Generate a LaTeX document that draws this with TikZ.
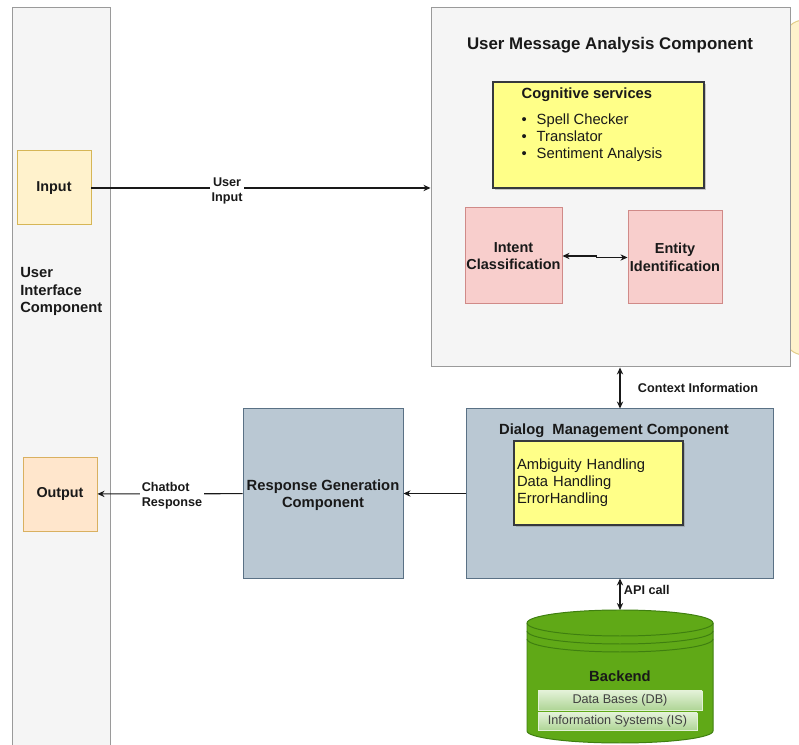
\documentclass[tikz,border=0pt]{standalone}
\usepackage{fontspec}
\setmainfont{Liberation Sans}
\usetikzlibrary{positioning,shadows,arrows.meta}

\definecolor{panelfill}{HTML}{F5F5F5}
\definecolor{panelline}{HTML}{9A9A9A}
\definecolor{infill}{HTML}{FFF2CC}
\definecolor{inline}{HTML}{D6B656}
\definecolor{outfill}{HTML}{FFE6CC}
\definecolor{outline}{HTML}{D9B060}
\definecolor{notefill}{HTML}{FFFF88}
\definecolor{noteline}{HTML}{36393D}
\definecolor{nlpfill}{HTML}{F8CECC}
\definecolor{nlpline}{HTML}{D08A88}
\definecolor{compfill}{HTML}{BAC8D3}
\definecolor{compline}{HTML}{5A7185}
\definecolor{dbfill}{HTML}{60A917}
\definecolor{dbline}{HTML}{3F7F10}
\definecolor{bartop}{HTML}{E2F1D6}
\definecolor{barbot}{HTML}{AFD596}

\begin{document}
\begin{tikzpicture}[>={Stealth[length=5pt, width=4.5pt]},
	every node/.style={inner sep=0pt, text=black!90},
	panel/.style={draw=panelline, fill=panelfill, line width=0.7pt},
	iobox/.style={draw, line width=0.7pt, minimum width=1.85cm, minimum height=1.85cm, font=\fontsize{10.2}{12}\selectfont\bfseries},
	nlpbox/.style={draw=nlpline, fill=nlpfill, line width=0.7pt, align=center, font=\fontsize{10.3}{12.4}\selectfont\bfseries},
	compbox/.style={draw=compline, fill=compfill, line width=0.7pt, minimum height=4.225cm, align=center, font=\fontsize{10.5}{12.4}\selectfont\bfseries},
	notebox/.style={draw=noteline, fill=notefill, line width=0.8pt, drop shadow={shadow xshift=1.2pt, shadow yshift=-1.2pt, opacity=0.4}},
	headtext/.style={font=\fontsize{12}{14}\selectfont\bfseries},
	subhead/.style={font=\fontsize{10.5}{12.4}\selectfont\bfseries},
	bodytext/.style={font=\fontsize{10.5}{12.1}\selectfont, align=left},
	lbl/.style={font=\fontsize{9}{10.8}\selectfont\bfseries, align=left, fill=white, inner sep=1pt},
	bar/.style={draw=bartop, top color=bartop, bottom color=barbot, font=\fontsize{9}{11}\selectfont, text=black!75},
	conn/.style={draw=black!90, line width=0.8pt}]
	\useasboundingbox (0,0) rectangle (19.975,18.625);
	\clip (0,0) rectangle (19.975,18.625);
	
	% shape cut off at the right edge
	\draw[fill=infill, draw=inline!70, line width=0.7pt, rounded corners=0.5cm] (19.6,18.125) rectangle (21,9.75);
	
	% User interface column
	\node[panel, minimum width=2.45cm, minimum height=18.8cm] (ui) at (1.525,9.025) {};
	\node[iobox, fill=infill, draw=inline] (input) at (1.35,13.925) {Input};
	\node[iobox, fill=outfill, draw=outline] (output) at (1.5,6.275) {Output};
	\node[subhead, anchor=west, align=left] (uilabel) at (0.5,11.33) {User\\Interface\\Component};
	
	% User message analysis
	\node[panel, minimum width=8.975cm, minimum height=8.975cm] (uma) at (15.2625,13.9375) {};
	\node[headtext] (umatitle) at (15.25,17.5) {User Message Analysis Component};
	\node[notebox, minimum width=5.275cm, minimum height=2.65cm] (cogsvc) at (14.9625,15.25) {};
	\node[bodytext, below right=0.14cm and 0.725cm of cogsvc.north west] (coglist)
		{\textbf{Cognitive services}\\[7pt]
		\textbullet\hspace{7pt}Spell Checker\\
		\textbullet\hspace{7pt}Translator\\
		\textbullet\hspace{7pt}Sentiment Analysis};
	\node[nlpbox, minimum width=2.425cm, minimum height=2.4cm] (intent) at (12.8375,12.225) {Intent\\Classification};
	\node[nlpbox, minimum width=2.35cm, minimum height=2.325cm] (entity) at (16.875,12.1875) {Entity\\Identification};
	
	% Dialog management and response
	\node[compbox, minimum width=7.675cm] (dlg) at (15.4875,6.2875) {};
	\node[subhead] (dlgtitle) at (15.35,7.86) {Dialog\ \ Management Component};
	\node[notebox, bodytext, minimum width=4.225cm, minimum height=2.1cm, text width=4.075cm, inner sep=0.075cm] (dlgtasks) at (14.9625,6.55)
		{Ambiguity Handling\\Data Handling\\ErrorHandling};
	\node[compbox, minimum width=4cm] (resp) at (8.075,6.2875) {\\[-2pt]Response Generation\\Component};
	
	% Backend data store
	\coordinate (dbtop) at (15.5,3.375);
	\draw[draw=dbline, fill=dbfill, line width=0.7pt] (13.175,3.05) -- (13.175,0.35)
		arc[start angle=180, end angle=360, x radius=2.325, y radius=0.3] -- (17.825,3.05)
		arc[start angle=0, end angle=180, x radius=2.325, y radius=0.325] -- cycle;
	\foreach \dy in {0,0.2,0.4}
		\draw[draw=dbline, line width=0.7pt] (13.175,3.05-\dy) arc[start angle=180, end angle=360, x radius=2.325, y radius=0.325];
	\node[subhead] (backend) at (15.5,1.725) {Backend};
	\node[bar, minimum width=4.1cm, minimum height=0.475cm] (dbbar) at (15.5,1.1125) {Data Bases (DB)};
	\node[bar, minimum width=3.975cm, minimum height=0.425cm] (isbar) at (15.4375,0.5875) {Information Systems (IS)};
	
	% Connectors
	\draw[conn, ->] (input) -- node[lbl, align=center, pos=0.4, yshift=-0.07cm] {User\\Input} (uma.west |- input);
	\draw[conn, <->] (intent.east) -- ++(0.85,0) |- (entity.west);
	\draw[conn, <->] (uma.south -| dbtop) -- node[lbl, anchor=west, xshift=0.4cm, fill=none] {Context Information} (dlg.north -| dbtop);
	\draw[conn, ->] (dlg) -- (resp);
	\draw[conn, ->] (resp) -- node[lbl, pos=0.486, yshift=-0.05cm] {Chatbot\\Response} (output);
	\draw[conn, <->] (dlg.south -| dbtop) -- node[lbl, anchor=west, xshift=0.05cm, yshift=0.1cm, fill=none] {API call} (dbtop);
\end{tikzpicture}
\end{document}
